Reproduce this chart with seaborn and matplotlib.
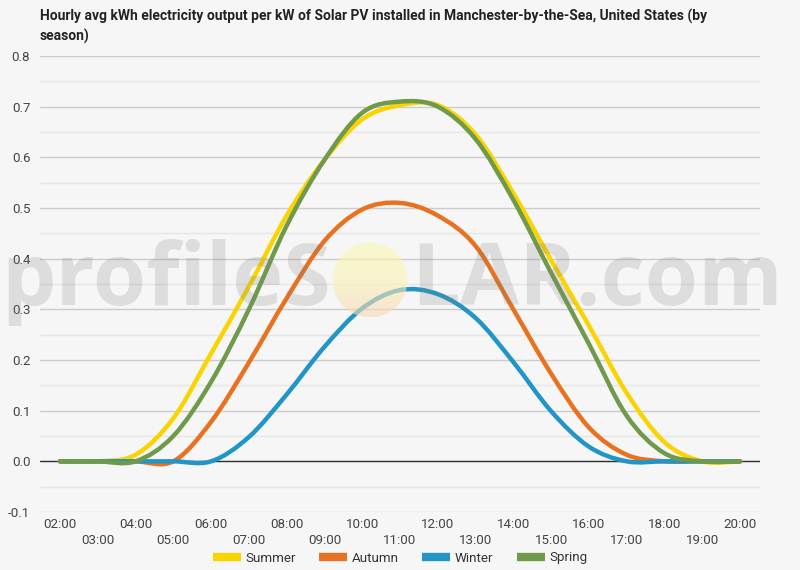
import numpy as np
import pandas as pd
import matplotlib
matplotlib.use("Agg")
import matplotlib.pyplot as plt
import seaborn as sns
from matplotlib.path import Path
from matplotlib.patches import PathPatch, Circle
from matplotlib.lines import Line2D

# ---------------- data ----------------
hours = ["02:00", "03:00", "04:00", "05:00", "06:00", "07:00", "08:00", "09:00",
         "10:00", "11:00", "12:00", "13:00", "14:00", "15:00", "16:00", "17:00",
         "18:00", "19:00", "20:00"]
summer = [0, 0, 0.013, 0.085, 0.213, 0.345, 0.485, 0.595, 0.675, 0.703, 0.703,
          0.645, 0.529, 0.397, 0.268, 0.135, 0.038, 0, 0]
autumn = [0, 0, 0, 0, 0.078, 0.195, 0.322, 0.435, 0.497, 0.510, 0.485,
          0.425, 0.300, 0.173, 0.067, 0.013, 0, 0, 0]
winter = [0, 0, 0, 0, 0, 0.048, 0.132, 0.226, 0.302, 0.338, 0.330,
          0.283, 0.196, 0.099, 0.029, 0, 0, 0, 0]
spring = [0, 0, 0, 0.050, 0.157, 0.300, 0.465, 0.595, 0.688, 0.710, 0.700,
          0.636, 0.516, 0.372, 0.232, 0.090, 0.016, 0, 0]
seasons = ["Summer", "Autumn", "Winter", "Spring"]
colors = ["#fad400", "#e8721f", "#2196c6", "#6f9a4b"]
title = ("Hourly avg kWh electricity output per kW of Solar PV installed in "
         "Manchester-by-the-Sea, United States (by\nseason)")

BG = "#f6f6f6"

sns.set_theme(style="white")
plt.rcParams["font.family"] = ["Roboto", "DejaVu Sans"]

hour_num = [int(h[:2]) for h in hours]
df = pd.concat([
    pd.DataFrame({"hour": hour_num, "kwh": vals, "season": name})
    for name, vals in zip(seasons, [summer, autumn, winter, spring])
], ignore_index=True)

W, H = 800, 570
fig = plt.figure(figsize=(W / 100, H / 100), dpi=100, facecolor=BG)

# main plot
left, right, top, bottom = 40, 760, 56, 512
ax = fig.add_axes([left / W, 1 - bottom / H, (right - left) / W, (bottom - top) / H])
ax.set_facecolor(BG)

sns.lineplot(data=df, x="hour", y="kwh", hue="season", hue_order=seasons,
             palette=colors, errorbar=None, legend=False, ax=ax, linewidth=3.2)


def smooth_path(xy):
    x, y = xy[:, 0], xy[:, 1]
    xp = np.concatenate([[x[0]], x, [x[-1]]])
    yp = np.concatenate([[y[0]], y, [y[-1]]])
    verts = [(x[0], y[0])]
    codes = [Path.MOVETO]
    for i in range(len(x) - 1):
        p0 = np.array([xp[i], yp[i]])
        p1 = np.array([xp[i + 1], yp[i + 1]])
        p2 = np.array([xp[i + 2], yp[i + 2]])
        p3 = np.array([xp[i + 3], yp[i + 3]])
        c1 = p1 + (p2 - p0) / 6.0
        c2 = p2 - (p3 - p1) / 6.0
        verts += [tuple(c1), tuple(c2), tuple(p2)]
        codes += [Path.CURVE4] * 3
    return Path(verts, codes)


for line in list(ax.lines):
    patch = PathPatch(smooth_path(line.get_xydata()), facecolor="none",
                      edgecolor=line.get_color(), linewidth=3.2,
                      capstyle="round", joinstyle="round", zorder=3)
    ax.add_patch(patch)
    line.remove()

ax.axhline(0, color="#333333", linewidth=1, zorder=2)

span = (right - left) / ((740 - 60) / 18)
pad_h = (span - 18) / 2
ax.set_xlim(2 - pad_h, 20 + pad_h)
ax.set_ylim(-0.1, 0.8)

ax.set_yticks(np.round(np.arange(-0.1, 0.81, 0.1), 2))
ax.set_yticks(np.round(np.arange(-0.05, 0.8, 0.1), 2), minor=True)
ax.set_yticklabels([f"{v:.1f}" for v in np.round(np.arange(-0.1, 0.81, 0.1), 2)])
ax.grid(which="major", axis="y", color="#cccccc", linewidth=1)
ax.grid(which="minor", axis="y", color="#e6e6e6", linewidth=1)
ax.grid(which="both", axis="x", visible=False)

ax.set_xticks(hour_num[::2])
ax.set_xticklabels(hours[::2])
ax.set_xticks(hour_num[1::2], minor=True)
ax.set_xticklabels(hours[1::2], minor=True)

ax.tick_params(axis="x", which="major", length=0, pad=4, labelsize=9.6,
               labelcolor="#444444")
ax.tick_params(axis="x", which="minor", length=0, pad=16, labelsize=9.6,
               labelcolor="#444444")
ax.tick_params(axis="y", which="both", length=0, pad=7, labelsize=9.6,
               labelcolor="#444444")
for s in ax.spines.values():
    s.set_visible(False)
ax.set_xlabel("")
ax.set_ylabel("")

# translucent watermark layer on top
wax = fig.add_axes([0, 0, 1, 1], zorder=5)
wax.set_xlim(0, W)
wax.set_ylim(H, 0)
wax.axis("off")
wax.patch.set_visible(False)
wm_kw = dict(fontsize=62, color="#808080", alpha=0.21,
             family=["Open Sans", "DejaVu Sans"], fontweight="bold",
             va="baseline")
wax.text(331, 305, "profileS", ha="right", **wm_kw)
wax.text(411, 305, "LAR.com", ha="left", **wm_kw)
cx, cy, r = 370, 280, 37.5
grad = np.linspace(0, 1, 100)[:, None] * np.ones((1, 10))
cmap = matplotlib.colors.LinearSegmentedColormap.from_list(
    "sun", ["#fbf8b0", "#faf3b4", "#f8d6b4"])
im = wax.imshow(grad, cmap=cmap, extent=[cx - r, cx + r, cy + r, cy - r],
                aspect="auto", alpha=0.6, zorder=1)
im.set_clip_path(Circle((cx, cy), r, transform=wax.transData))
wax.set_xlim(0, W)
wax.set_ylim(H, 0)

fig.text(left / W, 1 - 9 / H, title, ha="left", va="top", fontsize=10,
         fontweight="bold", color="#222222", linespacing=1.4)

handles = [Line2D([0], [0], color=c, linewidth=6, solid_capstyle="butt")
           for c in colors]
fig.legend(handles, seasons, loc="center", bbox_to_anchor=(0.5, 1 - 558 / H),
           ncol=4, frameon=False, fontsize=9.6, handlelength=2.1,
           handletextpad=0.3, columnspacing=1.8, labelcolor="#333333")

fig.savefig("out.png", dpi=100, facecolor=BG)
